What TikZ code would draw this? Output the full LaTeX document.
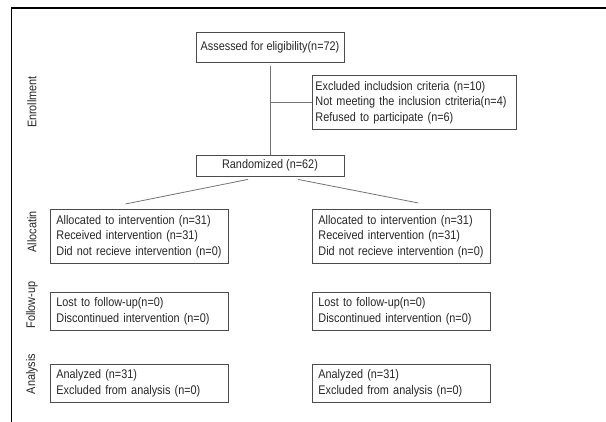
\documentclass[tikz,border=0pt]{standalone}
\usepackage{fontspec}
\setmainfont{Liberation Sans}[FakeStretch=0.87]
\begin{document}
\begin{tikzpicture}[x=1pt, y=-1pt,
    box/.style={draw=black!70, line width=0.8pt, anchor=north west, align=left,
        inner xsep=6pt, inner ysep=0pt, text=black!85,
        font=\fontsize{12.5}{15.5}\selectfont},
    mainbox/.style={draw=black!70, line width=0.8pt, align=center, inner sep=0pt,
        minimum width=148pt, text=black!85, font=\fontsize{12.5}{14}\selectfont},
    phase/.style={rotate=90, text=black!85, font=\fontsize{12.5}{14}\selectfont},
    link/.style={draw=black!55, line width=0.8pt}]
    \useasboundingbox (0,0) rectangle (606,422);

    % Cadre
    \draw[line width=1.2pt] (606,8) -- (11.5,8) -- (11.5,422);

    % Phases
    \node[phase] (enroll) at (32,102) {Enrollment};
    \node[phase] (alloclab) at (32,232) {Allocatin};
    \node[phase] (followlab) at (32,305) {Follow-up};
    \node[phase] (analab) at (32,374) {Analysis};

    % Inclusion
    \node[mainbox, minimum height=30pt] (assess) at (270,47) {Assessed for eligibility(n=72)};
    \node[box, inner xsep=3pt, text width=198pt, minimum height=54pt] (excl) at (312,75)
        {Excluded includsion criteria (n=10)\\Not meeting the inclusion ctriteria(n=4)\\Refused to participate (n=6)};
    \node[mainbox, minimum height=21pt] (random) at (270,165.5) {Randomized (n=62)};

    % Bras
    \node[box, text width=166pt, minimum height=54pt] (allocA) at (50,209)
        {Allocated to intervention (n=31)\\Received intervention (n=31)\\Did not recieve intervention (n=0)};
    \node[box, text width=166pt, minimum height=54pt] (allocB) at (312,209)
        {Allocated to intervention (n=31)\\Received intervention (n=31)\\Did not recieve intervention (n=0)};
    \node[box, text width=166pt, minimum height=38pt] (followA) at (50,292)
        {Lost to follow-up(n=0)\\Discontinued intervention (n=0)};
    \node[box, text width=166pt, minimum height=38pt] (followB) at (312,292)
        {Lost to follow-up(n=0)\\Discontinued intervention (n=0)};
    \node[box, text width=166pt, minimum height=38pt] (analA) at (50,364)
        {Analyzed (n=31)\\Excluded from analysis (n=0)};
    \node[box, text width=166pt, minimum height=38pt] (analB) at (312,364)
        {Analyzed (n=31)\\Excluded from analysis (n=0)};

    % Liaisons
    \draw[link] ([yshift=-4pt]assess.south) -- (random.north);
    \draw[link] (excl.west) -- (excl.west -| assess.south);
    \draw[link] ([xshift=-22pt, yshift=-3pt]random.south) -- ([xshift=-14pt, yshift=5pt]allocA.north);
    \draw[link] ([xshift=28pt, yshift=-3pt]random.south) -- ([xshift=17pt, yshift=6pt]allocB.north);
\end{tikzpicture}
\end{document}
